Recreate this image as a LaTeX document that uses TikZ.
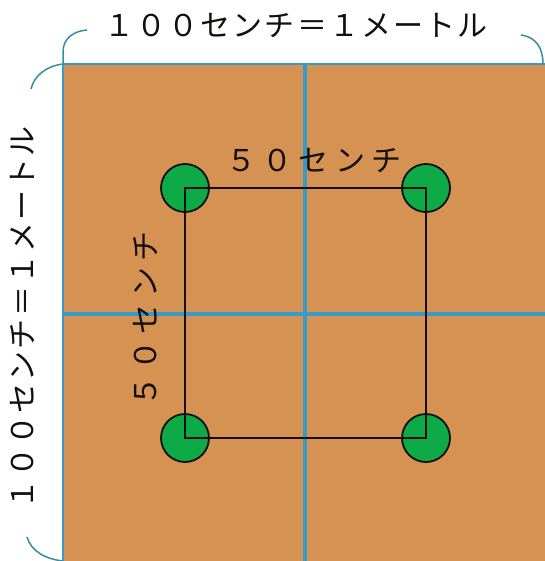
\documentclass[tikz,border=0pt]{standalone}
\usepackage{fontspec}
\newfontfamily\jp{Noto Sans CJK JP}
\newfontfamily\jptop[LetterSpace=7]{Noto Sans CJK JP}
\newfontfamily\jpin[LetterSpace=21]{Noto Sans CJK JP}
\definecolor{soil}{RGB}{214,146,82}
\definecolor{plant}{RGB}{14,170,72}
\definecolor{gridblue}{RGB}{55,155,200}
\definecolor{brk}{RGB}{55,140,165}
\definecolor{ink}{RGB}{20,15,15}
\tikzset{
  plantdot/.style={circle,draw=ink,line width=1.8pt,fill=plant,minimum size=48pt,inner sep=0pt},
  gridline/.style={draw=gridblue,line width=3.6pt},
  bracket/.style={draw=brk,line width=1.5pt},
  sqline/.style={draw=ink,line width=1.5pt},
  lbl/.style={text=ink,inner sep=0pt}
}
\begin{document}
\begin{tikzpicture}[x=1pt,y=-1pt]
\useasboundingbox (0,0) rectangle (544,561);
\fill[white] (0,0) rectangle (544,561);
% plot
\fill[soil] (63,64) rectangle (548,565);
\draw[draw=gridblue,line width=2.6pt] (548,64) -- (63,64) -- (63,565);
\draw[gridline] (305,64) -- (305,565);
\draw[gridline] (63,314) -- (548,314);
% plants
\node[plantdot] (p1) at (185,188) {};
\node[plantdot] (p2) at (426,188) {};
\node[plantdot] (p3) at (185,438) {};
\node[plantdot] (p4) at (426,438) {};
\draw[sqline] (p1.center) -- (p2.center) -- (p4.center) -- (p3.center) -- cycle;
% brackets
\coordinate (tl) at (63,64);
\draw[bracket] (tl) -- (63,52) .. controls (63,38) and (74,31) .. (87,30);
\draw[bracket] (521,35) .. controls (536,37) and (543,48) .. (543,64);
\draw[bracket] (tl) .. controls (46,66) and (34,76) .. (31,89);
\draw[bracket] (27,537) .. controls (31,551) and (45,559) .. (63,561);
% labels
\node[lbl,font=\jptop\fontsize{30}{30}\selectfont] (top) at (296,26) {１００センチ＝１メートル};
\node[lbl,font=\jptop\fontsize{30}{30}\selectfont,rotate=90] (left) at (23,318) {１００センチ＝１メートル};
\node[lbl,font=\jpin\fontsize{30}{30}\selectfont] (itop) at (314,161) {５０センチ};
\node[lbl,font=\jpin\fontsize{30}{30}\selectfont,rotate=90] (ileft) at (146,319) {５０センチ};
\end{tikzpicture}
\end{document}
